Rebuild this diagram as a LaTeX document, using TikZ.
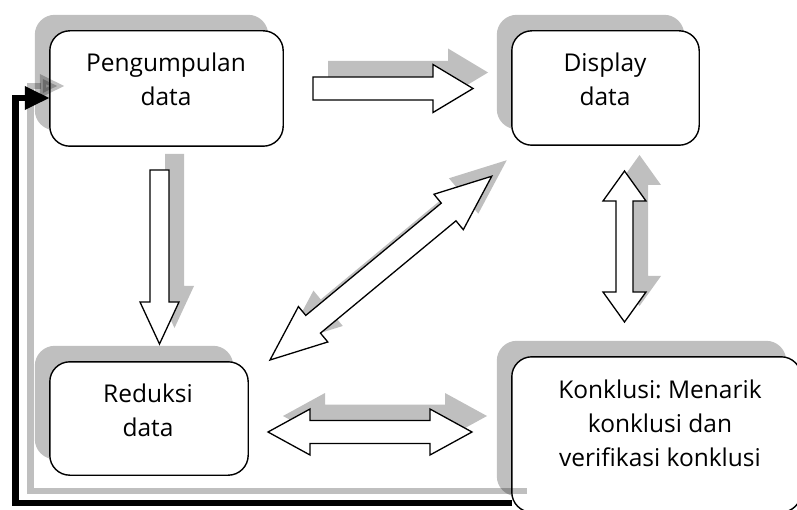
\documentclass[tikz,border=0pt]{standalone}
\usepackage{fontspec}
\setmainfont{Open Sans}
\usetikzlibrary{arrows.meta}
\frenchspacing
\begin{document}
\begin{tikzpicture}[x=1pt,y=-1pt,
  box/.style={draw, line width=1.4pt, fill=white, rounded corners=20pt, inner sep=0pt},
  lbl/.style={inner sep=0pt, align=center, font=\fontsize{24.5}{34}\selectfont},
  sh/.style={fill=black, fill opacity=0.25, draw=none},
  barrow/.style={draw, fill=white, line width=1.3pt, line join=miter},
  feedback/.style={line width=6.5pt, line join=miter, -{Triangle[length=25pt,width=22pt]}},
  pics/dbl/.style args={#1/#2/#3/#4}{code={
    \path[pic actions] (0,0) -- (#2,#3) -- (#2,#4) -- ({#1-#2},#4) -- ({#1-#2},#3) -- (#1,0)
      -- ({#1-#2},-#3) -- ({#1-#2},-#4) -- (#2,-#4) -- (#2,-#3) -- cycle;
  }},
  pics/sgl/.style args={#1/#2/#3/#4}{code={
    \path[pic actions] (0,#4) -- ({#1-#2},#4) -- ({#1-#2},#3) -- (#1,0)
      -- ({#1-#2},-#3) -- ({#1-#2},-#4) -- (0,-#4) -- cycle;
  }}
]
\path[use as bounding box] (0,0) rectangle (797,510);
\clip (0,0) rectangle (797,510);

% boxes (named)
\path node[minimum width=233pt, minimum height=115pt] (p) at (166.5,88.5) {};
\path node[minimum width=187pt, minimum height=114pt] (d) at (605.5,88) {};
\path node[minimum width=198pt, minimum height=113pt] (r) at (149,418.5) {};
\path node[minimum width=289pt, minimum height=155pt] (k) at (656.5,434.5) {};

% box shadows
\begin{scope}[transform canvas={shift={(-15pt,16pt)}}]
  \foreach \n in {p,d,r,k}
    \fill[sh, rounded corners=20pt] (\n.south west) rectangle (\n.north east);
\end{scope}
% box outlines
\foreach \n in {p,d,r,k}
  \draw[box] (\n.south west) rectangle (\n.north east);

% labels
\node[lbl] (tp) at (166,79) {Pengumpulan\\data};
\node[lbl] (td) at (605,79) {Display\\data};
\node[lbl] (tr) at (148,410) {Reduksi\\data};
\node[lbl] (tk) at (660,423) {Konklusi: Menarik\\konklusi dan\\verifikasi konklusi};

% block arrow shadows
\pic[sh] at (328,72.5) {sgl=160/40/24/11.5};
\pic[sh, rotate=-90] at (174.5,154) {sgl=174/42/19.5/9.5};
\pic[sh, rotate=-90] at (639.5,155) {dbl=151/30/21.5/8.5};
\pic[sh] at (283,416) {dbl=204/42/23/11.5};
\pic[sh, rotate=39.65] at (285,344) {dbl=288/56/23/11.5};

% block arrows
\pic[barrow] at (313,88.5) {sgl=160/40/24/11.5};
\pic[barrow, rotate=-90] at (159.5,170) {sgl=174/42/19.5/9.5};
\pic[barrow, rotate=-90] at (624.5,171) {dbl=151/30/21.5/8.5};
\pic[barrow] at (268,432) {dbl=204/42/23/11.5};
\pic[barrow, rotate=39.65] at (270,360) {dbl=288/56/23/11.5};

% feedback connector
\coordinate (fbstart) at (512,503);
\coordinate (fbcorner) at (15.5,503);
\begin{scope}[transform canvas={shift={(15pt,12pt)}}]
  \draw[feedback, draw=black, opacity=0.25]
    (fbstart) -- (fbcorner) |- ([yshift=-9.5pt]p.west);
\end{scope}
\draw[feedback] (fbstart) -- (fbcorner) |- ([yshift=-9.5pt]p.west);
\end{tikzpicture}
\end{document}
